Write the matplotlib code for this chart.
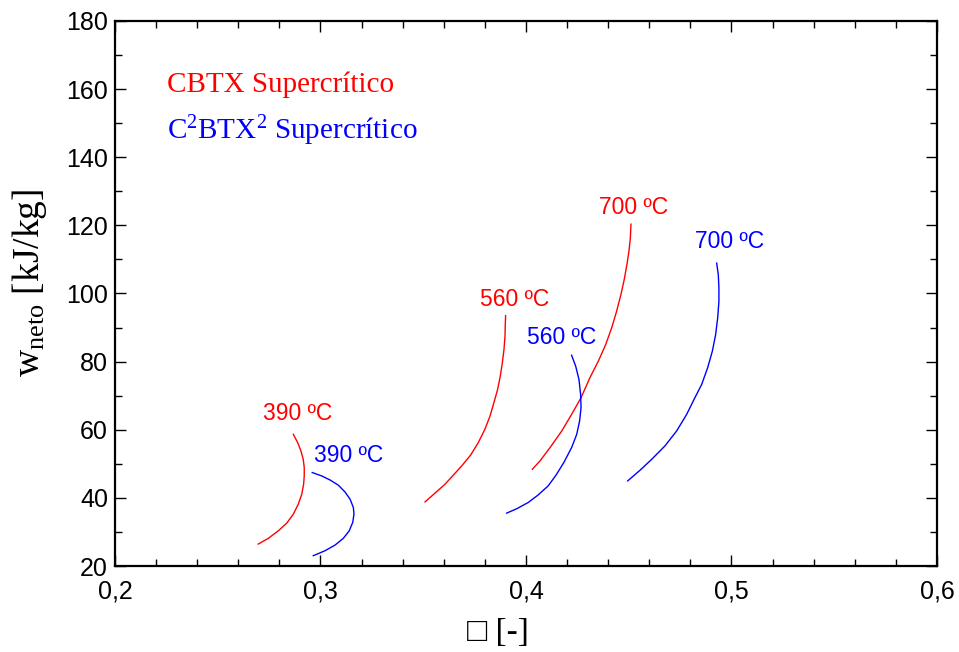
import numpy as np
import matplotlib
matplotlib.use('Agg')
import matplotlib.pyplot as plt
from matplotlib.ticker import MultipleLocator, FuncFormatter

# Curvas (eta [-], w_neto [kJ/kg])
# CBTX supercritico
eta_cbtx_390 = [0.2868, 0.2889, 0.2905, 0.2916, 0.2921, 0.2921, 0.2918, 0.2909, 0.2892,
                0.2868, 0.2836, 0.2795, 0.2746, 0.2697]
w_cbtx_390 = [58.65, 56.22, 53.75, 51.33, 48.90, 46.44, 44.01, 41.08, 38.16,
              35.23, 32.59, 30.34, 28.11, 26.44]
eta_cbtx_560 = [0.3901, 0.3899, 0.3898, 0.3893, 0.3885, 0.3875, 0.3862, 0.3844, 0.3825,
                0.3800, 0.3768, 0.3731, 0.3687, 0.3646, 0.3606, 0.3557, 0.3509]
w_cbtx_560 = [93.50, 90.37, 87.44, 83.54, 79.65, 75.72, 71.83, 67.94, 64.01,
              60.12, 56.22, 52.59, 49.37, 46.65, 44.01, 41.38, 38.83]
eta_cbtx_700 = [0.4511, 0.4508, 0.4501, 0.4491, 0.4478, 0.4462, 0.4441, 0.4417, 0.4388,
                0.4352, 0.4311, 0.4268, 0.4222, 0.4174, 0.4117, 0.4068, 0.4031]
w_cbtx_700 = [120.35, 116.25, 112.33, 108.43, 104.04, 99.65, 94.76, 89.90, 85.01,
              80.12, 75.26, 69.40, 64.51, 59.62, 54.76, 50.83, 48.40]

# C2BTX2 supercritico
eta_c2_390 = [0.2960, 0.3006, 0.3046, 0.3087, 0.3119, 0.3144, 0.3160, 0.3163, 0.3157,
              0.3140, 0.3111, 0.3071, 0.3022, 0.2965]
w_c2_390 = [47.44, 46.44, 45.27, 43.72, 41.76, 39.62, 37.19, 35.23, 32.80,
            30.34, 28.11, 26.15, 24.48, 23.02]
eta_c2_560 = [0.4222, 0.4242, 0.4258, 0.4266, 0.4268, 0.4261, 0.4247, 0.4222, 0.4185,
              0.4146, 0.4108, 0.4058, 0.4011, 0.3956, 0.3906]
w_c2_560 = [81.87, 78.65, 74.76, 70.37, 66.47, 62.55, 58.65, 54.76, 50.45,
            46.65, 43.51, 40.79, 38.65, 36.84, 35.52]
eta_c2_700 = [0.4928, 0.4936, 0.4939, 0.4939, 0.4933, 0.4923, 0.4907, 0.4884, 0.4855,
              0.4822, 0.4782, 0.4733, 0.4676, 0.4612, 0.4555, 0.4495]
w_c2_700 = [108.93, 105.51, 101.61, 97.69, 92.83, 87.94, 83.05, 78.18, 73.29,
            69.40, 64.51, 59.62, 55.23, 51.33, 48.11, 44.98]

# etiquetas de temperatura (texto, x, y)
etiq_rojo = [('390 ºC', 0.2722, 63.0), ('560 ºC', 0.3776, 96.2), ('700 ºC', 0.4355, 123.2)]
etiq_azul = [('390 ºC', 0.2970, 50.5), ('560 ºC', 0.4003, 85.2), ('700 ºC', 0.4822, 113.5)]

plt.rcParams['font.family'] = ['Liberation Sans', 'DejaVu Sans']
plt.rcParams['mathtext.fontset'] = 'custom'
plt.rcParams['mathtext.rm'] = 'Liberation Serif'
plt.rcParams['mathtext.it'] = 'Liberation Serif:italic'

fig = plt.figure(figsize=(9.59, 6.52), dpi=100)
ax = fig.add_axes([0.1199, 0.1319, 0.977 - 0.1199, 0.9678 - 0.1319])

lw = 1.0
ax.plot(eta_cbtx_390, w_cbtx_390, color='red', lw=lw)
ax.plot(eta_cbtx_560, w_cbtx_560, color='red', lw=lw)
ax.plot(eta_cbtx_700, w_cbtx_700, color='red', lw=lw)
ax.plot(eta_c2_390, w_c2_390, color='blue', lw=lw)
ax.plot(eta_c2_560, w_c2_560, color='blue', lw=lw)
ax.plot(eta_c2_700, w_c2_700, color='blue', lw=lw)

for t, x, y in etiq_rojo:
    ax.text(x, y, t, color='red', fontsize=16.5, va='baseline', ha='left')
for t, x, y in etiq_azul:
    ax.text(x, y, t, color='blue', fontsize=16.5, va='baseline', ha='left')

ax.text(0.2253, 159.1, 'CBTX Supercrítico', color='red', fontsize=21,
        family='Liberation Serif', va='baseline')
ax.text(0.2253, 145.3, 'C$^2$BTX$^2$ Supercrítico', color='blue', fontsize=21,
        family='Liberation Serif', va='baseline')

ax.set_xlim(0.2, 0.6)
ax.set_ylim(20, 180)
ax.xaxis.set_major_locator(MultipleLocator(0.1))
ax.xaxis.set_minor_locator(MultipleLocator(0.02))
ax.yaxis.set_major_locator(MultipleLocator(20))
ax.yaxis.set_minor_locator(MultipleLocator(10))
ax.xaxis.set_major_formatter(FuncFormatter(lambda v, p: ('%.1f' % v).replace('.', ',')))
ax.yaxis.set_major_formatter(FuncFormatter(lambda v, p: '%d' % v))

ax.tick_params(which='both', direction='in', top=True, right=True, labelsize=18, width=1.0)
ax.tick_params(which='major', length=8)
ax.tick_params(which='minor', length=5)
ax.tick_params(axis='x', which='major', pad=10)
ax.tick_params(axis='y', which='major', pad=5)
for s in ax.spines.values():
    s.set_linewidth(1.6)

ax.set_ylabel(r'w$_{\mathrm{neto}}$ [kJ/kg]', family='Liberation Serif', fontsize=27)
ax.yaxis.set_label_coords(-0.08, 0.52)
fig.text(498 / 959, 1 - 633 / 652, '\u25a1 [-]', family=['Liberation Serif', 'DejaVu Sans'],
         fontsize=24, ha='center', va='center')

fig.savefig('out.png', dpi=100)
